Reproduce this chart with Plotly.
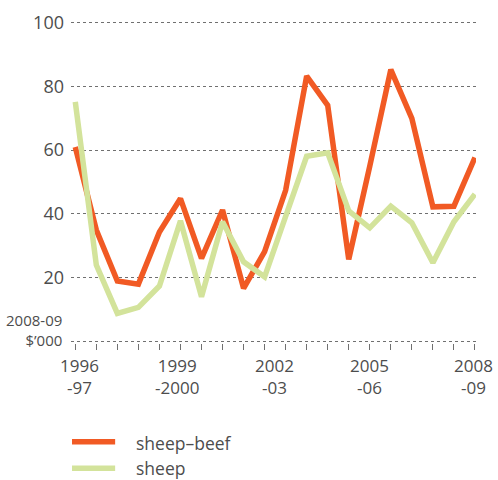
import plotly.graph_objects as go

# ---- data ----
x_index = list(range(20))
sheep_beef = [61.0, 34.9, 18.9, 17.9, 34.3, 44.8, 26.0, 41.2, 16.6, 28.1,
              47.4, 83.3, 74.1, 25.7, 55.0, 85.3, 70.0, 42.2, 42.4, 57.7]
sheep = [75.2, 23.9, 8.7, 10.6, 17.3, 37.8, 13.9, 37.5, 24.9, 20.2,
         39.2, 58.1, 59.2, 40.9, 35.6, 42.4, 37.2, 24.6, 37.5, 46.2]
x_labels = ["1996<br>-97", "1999<br>-2000", "2002<br>-03", "2005<br>-06", "2008<br>-09"]
x_label_pos = [0.2, 4.85, 9.48, 14.0, 18.95]
y_ticks = [0, 20, 40, 60, 80, 100]
y_labels = ["", "20", "40", "60", "80", "100"]

ORANGE = "#F15A24"
GREEN = "#D3E39B"
TEXT = "#4d4d4d"
GRID = "#707070"
FONT = "Open Sans"

fig = go.Figure()
fig.add_trace(go.Scatter(x=x_index, y=sheep_beef, mode="lines", name="sheep–beef",
                         line=dict(color=ORANGE, width=5.5), showlegend=False))
fig.add_trace(go.Scatter(x=x_index, y=sheep, mode="lines", name="sheep",
                         line=dict(color=GREEN, width=5.5), showlegend=False))

fig.update_layout(
    width=498, height=480,
    margin=dict(l=70.7, r=22, t=21.1, b=137.1, autoexpand=False),
    paper_bgcolor="white", plot_bgcolor="white",
    font=dict(family=FONT, size=18, color=TEXT),
    xaxis=dict(range=[-0.204, 19.05], showgrid=False, zeroline=False, showline=False,
               automargin=False, showticklabels=False,
               tickmode="array", tickvals=x_label_pos, ticks="",
               minor=dict(tickmode="linear", tick0=0, dtick=1, ticks="outside",
                          ticklen=6, tickwidth=1.3, tickcolor=GRID, showgrid=False)),
    yaxis=dict(range=[-0.6, 100.6], tickmode="array", tickvals=y_ticks, ticktext=y_labels,
               automargin=False,
               showgrid=True, gridcolor=GRID, gridwidth=1.3, griddash="dot",
               zeroline=False, showline=False, ticks="", ticklabelstandoff=6,
               tickfont=dict(family=FONT, size=18, color=TEXT)),
)

# x-axis labels (two lines each)
for txt, xp in zip(x_labels, x_label_pos):
    fig.add_annotation(x=xp, y=-0.1025, xref="x", yref="paper", text=txt,
                       showarrow=False, xanchor="center", yanchor="middle",
                       borderpad=0, font=dict(family=FONT, size=17, color=TEXT))

# unit label
fig.add_annotation(x=-0.019, y=0.041, xref="paper", yref="paper",
                   text="2008-09<br>$’000", align="right",
                   showarrow=False, xanchor="right", yanchor="middle", borderpad=0,
                   font=dict(family=FONT, size=15, color=TEXT))

# legend (manual)
legend_items = [("sheep–beef", ORANGE, -0.307, -0.311), ("sheep", GREEN, -0.389, -0.389)]
for name, color, yl, yt in legend_items:
    fig.add_shape(type="line", xref="paper", yref="paper", x0=0.0025, x1=0.109,
                  y0=yl, y1=yl, line=dict(color=color, width=5.5))
    fig.add_annotation(x=0.159, y=yt, xref="paper", yref="paper", text=name,
                       showarrow=False, xanchor="left", yanchor="middle", borderpad=0,
                       font=dict(family=FONT, size=17.5, color=TEXT))

fig.write_html("out.html", config={"displayModeBar": False},
               post_script="document.body.style.margin='0';document.body.style.overflow='hidden';")
